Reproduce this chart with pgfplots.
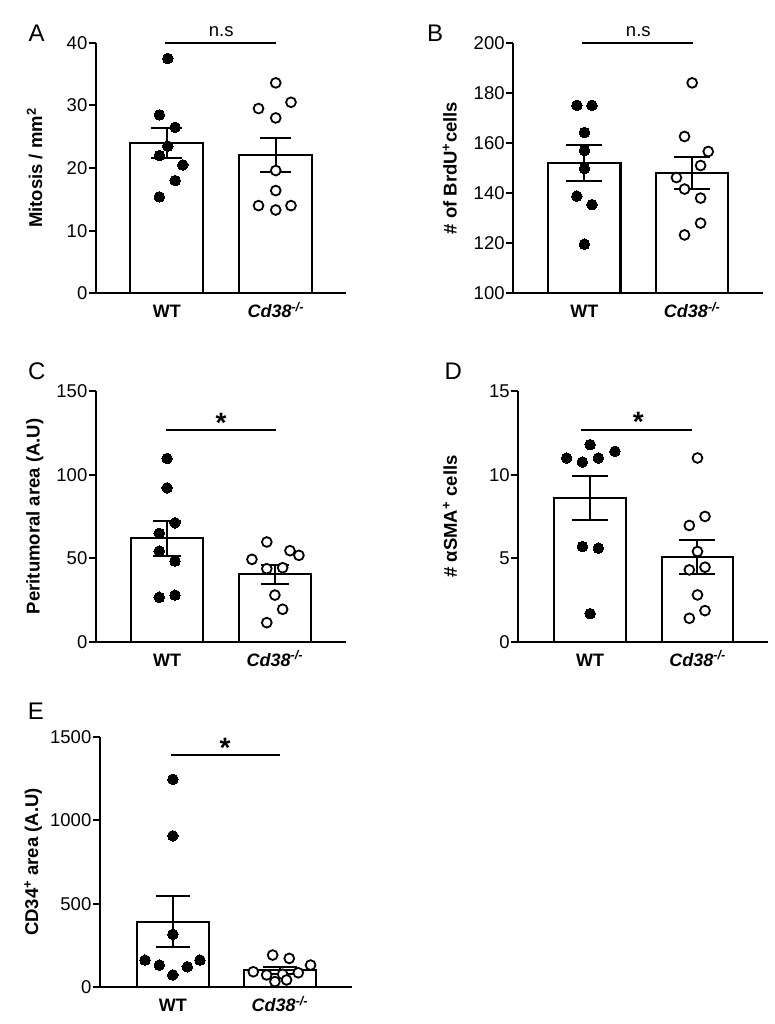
\documentclass[border=0pt]{standalone}
\usepackage{fontspec}
\setmainfont{Liberation Sans}
\usepackage{pgfplots}
\pgfplotsset{compat=1.18}

\newcommand{\ko}{{\itshape Cd38\textsuperscript{-/-}}}
\newcommand{\fs}[1]{\fontsize{#1}{#1}\selectfont}

\pgfplotsset{
  panel/.style={
    scale only axis, width=250pt, height=250.5pt,
    anchor=south west,
    axis x line*=bottom, axis y line*=left,
    axis line style={line width=1.9pt, black},
    xtick={0,1}, xticklabels={WT,\ko},
    xtick style={draw=none},
    tick align=outside, major tick length=7pt,
    ytick style={line width=1.9pt, black},
    xticklabel style={font=\fs{18}\bfseries, anchor=base, yshift=-17.5pt},
    yticklabel style={font=\fs{18.5}, inner sep=1.5pt},
    /pgf/number format/assume math mode=true,
    /pgf/number format/1000 sep={},
    ylabel style={font=\fs{18.5}\bfseries, anchor=center},
  },
  bars/.style={ybar, bar width=0.67, bar shift=0pt, draw=black, fill=white, line width=2.1pt,
    error bars/y dir=both, error bars/y explicit,
    error bars/error bar style={line width=2pt, black},
    error bars/error mark options={rotate=90, line width=2pt, black, mark size=#1}},
  wt/.style={only marks, mark=*, mark size=5.3pt, mark options={fill=black, draw=black, line width=0pt}},
  kod/.style={only marks, mark=*, mark size=4.9pt, mark options={fill=white, draw=black, line width=1.8pt}},
}

\begin{document}
\begin{tikzpicture}
\path[use as bounding box] (0,0) rectangle (775pt,1024pt);

% A  mitosis
\begin{axis}[panel, at={(96pt,730.7pt)}, xmin=-0.65, xmax=1.645,
  ymin=0, ymax=40, ytick={0,10,20,30,40},
  ylabel={Mitosis / mm\textsuperscript{2}},
  ylabel style={at={(axis description cs:-0.245,0.5)}}]
\addplot[bars=15.5pt] coordinates {(0,24.0) +- (0,2.45) (1,22.1) +- (0,2.75)};
\addplot[wt] coordinates {(0.009,37.5) (-0.068,28.5) (0.077,26.5) (0.009,23.5)
  (-0.068,22.0) (0.147,20.5) (0.077,18.0) (-0.068,15.4)};
\addplot[kod] coordinates {(1.0,33.6) (0.842,29.5) (1.14,30.5) (1.0,28.0) (1.0,19.6)
  (1.0,16.4) (0.842,14.0) (1.0,13.3) (1.14,14.0)};
\coordinate (a1) at (axis cs:-0.014,40);
\coordinate (a2) at (axis cs:1,40);
\coordinate (a3) at (axis cs:0.5,40);
\end{axis}

% B  BrdU
\begin{axis}[panel, at={(513.3pt,730.7pt)}, xmin=-0.66, xmax=1.66,
  ymin=100, ymax=200, ytick={100,120,...,200},
  ylabel={\# of BrdU\textsuperscript{+}cells},
  ylabel style={at={(axis description cs:-0.254,0.5)}}]
\addplot[bars=18pt] coordinates {(0,152) +- (0,7) (1,148) +- (0,6.3)};
\addplot[wt] coordinates {(-0.07,175) (0.07,175) (0,164.2) (0,157) (0,149.8)
  (-0.07,138.8) (0.07,135.4) (0,119.6)};
\addplot[kod] coordinates {(1.0,184) (0.929,162.6) (1.149,156.6) (1.078,151.0) (0.854,146.2)
  (0.929,141.6) (1.078,138.0) (1.078,128.0) (0.929,123.3)};
\coordinate (b1) at (axis cs:-0.018,200);
\coordinate (b2) at (axis cs:1.006,200);
\coordinate (b3) at (axis cs:0.5,200);
\end{axis}

% C  peritumoral area
\begin{axis}[panel, at={(96pt,382.3pt)}, xmin=-0.66, xmax=1.66,
  ymin=0, ymax=150, ytick={0,50,100,150},
  ylabel={Peritumoral area (A.U)},
  ylabel style={at={(axis description cs:-0.245,0.5)}}]
\addplot[bars=14pt] coordinates {(0,61.9) +- (0,10.4) (1,40.3) +- (0,5.5)};
\addplot[wt] coordinates {(0,109.7) (0,92.1) (0.073,71.2) (-0.073,64.9) (-0.073,54.3)
  (0.073,48.3) (-0.073,26.6) (0.073,27.9)};
\addplot[kod] coordinates {(0.925,59.7) (0.787,49.3) (1.14,54.5) (1.223,51.7) (0.925,43.7)
  (1.072,44.3) (1.0,27.9) (1.072,19.4) (0.925,11.4)};
\coordinate (c1) at (axis cs:-0.01,126.7);
\coordinate (c2) at (axis cs:1.01,126.7);
\coordinate (c3) at (axis cs:0.5,126.7);
\end{axis}

% D  alpha SMA
\begin{axis}[panel, at={(518.3pt,382.3pt)}, xmin=-0.67, xmax=1.66,
  ymin=0, ymax=15, ytick={0,5,10,15},
  ylabel={\# αSMA\textsuperscript{+} cells},
  ylabel style={at={(axis description cs:-0.273,0.5)}}]
\addplot[bars=18pt] coordinates {(0,8.62) +- (0,1.33) (1,5.08) +- (0,1.03)};
\addplot[wt] coordinates {(0,11.8) (-0.219,11.0) (-0.073,10.76) (0.076,11.0) (0.231,11.4)
  (-0.073,5.7) (0.076,5.6) (0,1.68)};
\addplot[kod] coordinates {(1.0,11.0) (1.07,7.5) (0.924,6.96) (1.0,5.4) (0.924,4.3)
  (1.07,4.46) (1.0,2.8) (1.07,1.86) (0.924,1.4)};
\coordinate (d1) at (axis cs:-0.086,12.7);
\coordinate (d2) at (axis cs:0.946,12.7);
\coordinate (d3) at (axis cs:0.448,12.7);
\end{axis}

% E  CD34
\begin{axis}[panel, at={(100pt,36.7pt)}, width=251.7pt, xmin=-0.68, xmax=1.67,
  ymin=0, ymax=1500, ytick={0,500,1000,1500},
  ylabel={CD34\textsuperscript{+} area (A.U)},
  ylabel style={at={(axis description cs:-0.266,0.5)}}]
\addplot[bars=17pt] coordinates {(0,392) +- (0,153) (1,101) +- (0,20)};
\addplot[wt] coordinates {(0,1245) (0,907) (0,317) (-0.26,163) (-0.126,133)
  (0,74) (0.135,123) (0.253,163)};
\addplot[kod] coordinates {(0.932,193) (1.087,173) (1.286,133) (0.751,93) (0.876,74)
  (1.025,78) (1.171,87) (0.953,34) (1.062,44)};
\coordinate (e1) at (axis cs:-0.02,1390);
\coordinate (e2) at (axis cs:1.0,1390);
\coordinate (e3) at (axis cs:0.487,1390);
\end{axis}

% significance brackets
\foreach \p in {a,b,c,d,e}{\draw[line width=1.9pt] (\p1) -- (\p2);}
\node[anchor=base, font=\fs{18.5}] at ([yshift=6.6pt]a3) {n.s};
\node[anchor=base, font=\fs{18.5}] at ([yshift=6.6pt]b3) {n.s};
\node[anchor=base, font=\fs{28}\bfseries] at ([yshift=-2pt]c3) {*};
\node[anchor=base, font=\fs{28}\bfseries] at ([yshift=-2pt]d3) {*};
\node[anchor=base, font=\fs{28}\bfseries] at ([yshift=-2pt]e3) {*};

% panel letters
\node[font=\fs{24}] at (36.7pt,991pt) {A};
\node[font=\fs{24}] at (435pt,991pt) {B};
\node[font=\fs{24}] at (36.7pt,652.7pt) {C};
\node[font=\fs{24}] at (453.3pt,652.7pt) {D};
\node[font=\fs{24}] at (35.8pt,312.7pt) {E};
\end{tikzpicture}
\end{document}
